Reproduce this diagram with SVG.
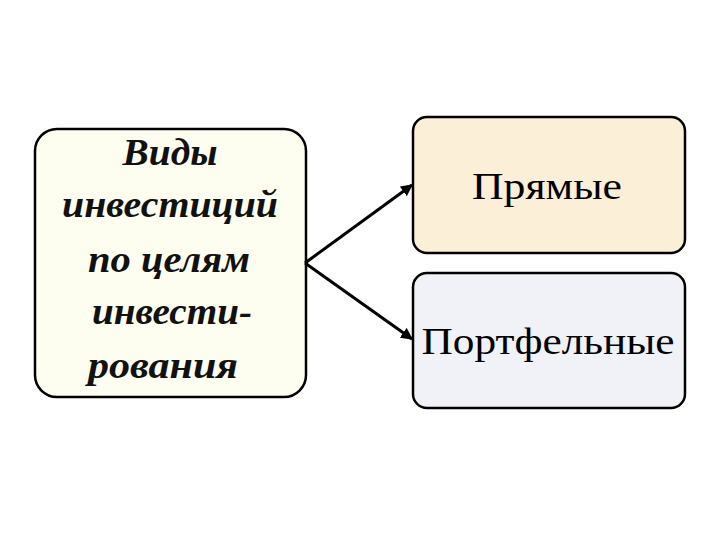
<svg xmlns="http://www.w3.org/2000/svg" width="720" height="540" viewBox="0 0 720 540">
<style>
.box{stroke:#000;stroke-width:2.5}
.lt{font-family:"Liberation Serif",serif;font-weight:bold;font-style:italic;font-size:38px;text-anchor:middle;fill:#111}
.rt{font-family:"Liberation Serif",serif;font-size:38px;text-anchor:middle;fill:#000}
.conn{stroke:#000;stroke-width:3;fill:none;marker-end:url(#ah)}
</style>
<defs>
<marker id="ah" viewBox="0 0 10 10" refX="9" refY="5" markerWidth="4" markerHeight="4" orient="auto" markerUnits="strokeWidth">
<path d="M0,0 L10,5 L0,10 Z" fill="#000"/>
</marker>
</defs>
<rect width="720" height="540" fill="#fff"/>
<g id="node-types">
<rect class="box" x="35" y="129" width="271" height="268" rx="22" fill="#fefef0"/>
<text class="lt" x="170" y="165" textLength="95" lengthAdjust="spacingAndGlyphs">Виды</text>
<text class="lt" x="170" y="217" textLength="216" lengthAdjust="spacingAndGlyphs">инвестиций</text>
<text class="lt" x="169" y="272" textLength="162" lengthAdjust="spacingAndGlyphs">по целям</text>
<text class="lt" x="172" y="324" textLength="160" lengthAdjust="spacingAndGlyphs">инвести-</text>
<text class="lt" x="163" y="378" textLength="150" lengthAdjust="spacingAndGlyphs">рования</text>
</g>
<g id="node-direct">
<rect class="box" x="413" y="117" width="272" height="136" rx="14" fill="#fbefd8"/>
<text class="rt" x="547" y="199" textLength="150" lengthAdjust="spacingAndGlyphs">Прямые</text>
</g>
<g id="node-portfolio">
<rect class="box" x="413" y="273" width="272" height="135" rx="14" fill="#f1f1f8"/>
<text class="rt" x="548" y="354" font-size="41" textLength="253" lengthAdjust="spacingAndGlyphs">Портфельные</text>
</g>
<g id="connectors">
<path class="conn" d="M305,263 L412,185"/>
<path class="conn" d="M305,263 L412,339"/>
</g>
</svg>
